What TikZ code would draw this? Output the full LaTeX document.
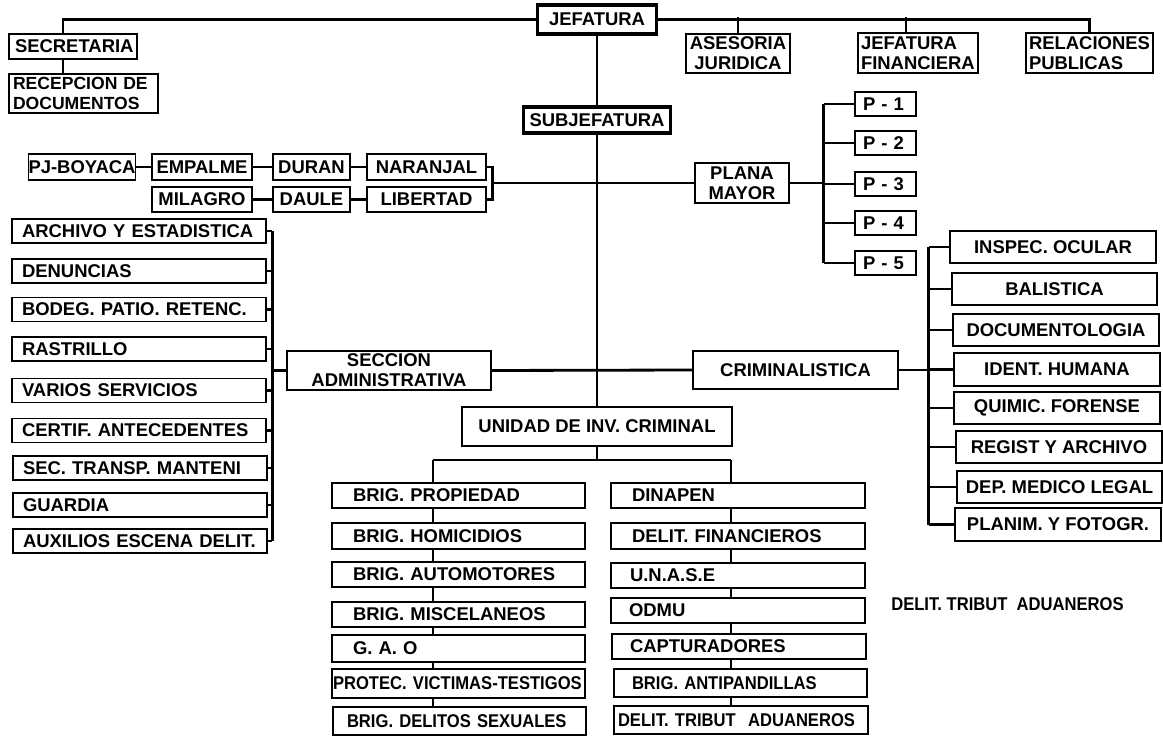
\documentclass[tikz,border=0pt]{standalone}
\usepackage{fontspec}
\setmainfont{Liberation Sans}
\newfontfamily\schmal[FakeStretch=0.9]{Liberation Sans}
\usetikzlibrary{backgrounds}
\tikzset{
  kasten/.style={draw, fill=white, line width=0.6pt, inner ysep=0pt,
    font=\bfseries\fontsize{10.5}{11.5}\selectfont},
  mitte/.style n args={2}{kasten, align=center, inner xsep=0pt,
    minimum width=#1*0.02cm, minimum height=#2*0.02cm},
  links/.style n args={3}{kasten, align=left, minimum height=#2*0.02cm,
    inner xsep=#3*0.02cm, text width={(#1-2*#3)*0.02cm}},
  chef/.style={line width=1.8pt},
  linie/.style={line width=1.6pt}
}
\begin{document}
\begin{tikzpicture}[x=0.02cm,y=-0.02cm]
  \useasboundingbox (0,0) rectangle (1163,736);

  % Jefatura y asesores
  \node[mitte={119}{29}, chef] (jefatura) at (597,19.5) {JEFATURA};
  \node[links={128}{25}{6}] (secretaria) at (73,46.5) {SECRETARIA};
  \node[links={149}{39}{4}, font=\bfseries\fontsize{10}{11.5}\selectfont] (recepcion) at (83.5,93.5) {RECEPCION DE\\DOCUMENTOS};
  \node[mitte={104}{39}] (asesoria) at (738,53.5) {ASESORIA\\JURIDICA};
  \node[links={120}{40}{3}] (finanzas) at (918,53) {JEFATURA\\FINANCIERA};
  \node[links={127}{40}{3}] (relaciones) at (1089.5,53) {RELACIONES\\PUBLICAS};
  \node[mitte={147}{26}, chef] (subjefatura) at (597,120) {SUBJEFATURA};

  % Jefaturas provinciales
  \node[mitte={104}{26}] (pj) at (82,167) {PJ-BOYACA};
  \node[mitte={100}{26}] (empalme) at (202,167) {EMPALME};
  \node[mitte={77}{26}] (duran) at (311.5,167) {DURAN};
  \node[mitte={119}{26}] (naranjal) at (426.5,167) {NARANJAL};
  \node[mitte={100}{25}] (milagro) at (202,199.5) {MILAGRO};
  \node[mitte={77}{25}] (daule) at (311.5,199.5) {DAULE};
  \node[mitte={119}{25}] (libertad) at (426.5,199.5) {LIBERTAD};

  % Plana mayor
  \node[mitte={94}{40}] (plana) at (742,183) {PLANA\\MAYOR};
  \node[links={61}{24}{8}] (p1) at (885.5,104) {P - 1};
  \node[links={61}{24}{8}] (p2) at (885.5,143) {P - 2};
  \node[links={61}{24}{8}] (p3) at (885.5,184) {P - 3};
  \node[links={61}{24}{8}] (p4) at (885.5,223) {P - 4};
  \node[links={61}{24}{8}] (p5) at (885.5,263) {P - 5};

  % Seccion administrativa
  \node[mitte={204}{39}] (seccion) at (389,370.5) {SECCION\\ADMINISTRATIVA};
  \node[links={254}{24}{10}] (archivo) at (139,231) {ARCHIVO Y ESTADISTICA};
  \node[links={254}{24}{10}] (denuncias) at (139,271) {DENUNCIAS};
  \node[links={254}{24}{10}] (bodega) at (139,309.5) {BODEG. PATIO. RETENC.};
  \node[links={254}{24}{10}] (rastrillo) at (139,349) {RASTRILLO};
  \node[links={254}{24}{10}] (varios) at (139,390.5) {VARIOS SERVICIOS};
  \node[links={254}{24}{10}] (certif) at (139,430.5) {CERTIF. ANTECEDENTES};
  \node[links={254}{24}{10}] (transporte) at (140,468) {SEC. TRANSP. MANTENI};
  \node[links={254}{24}{10}] (guardia) at (140,505) {GUARDIA};
  \node[links={254}{24}{10}] (auxilios) at (140,541) {AUXILIOS ESCENA DELIT.};

  % Criminalistica
  \node[mitte={205}{38}] (crim) at (795.5,370) {CRIMINALISTICA};
  \node[mitte={206}{32}] (inspec) at (1053,247) {INSPEC. OCULAR};
  \node[mitte={205}{32}] (balistica) at (1054.5,289) {BALISTICA};
  \node[mitte={206}{32}] (docu) at (1056,330) {DOCUMENTOLOGIA};
  \node[mitte={206}{33}] (ident) at (1057,369.5) {IDENT. HUMANA};
  \node[mitte={206}{32}] (quimic) at (1057,408) {QUIMIC. FORENSE};
  \node[mitte={206}{32}] (regist) at (1059,447) {REGIST Y ARCHIVO};
  \node[mitte={205}{32}] (medico) at (1059.5,487) {DEP. MEDICO LEGAL};
  \node[mitte={206}{33}] (planim) at (1058,524.5) {PLANIM. Y FOTOGR.};

  % Unidad de investigacion
  \node[mitte={270}{39}] (unidad) at (597,426.5) {UNIDAD DE INV. CRIMINAL};
  \node[links={253}{25}{21}] (propiedad) at (458.5,495.5) {BRIG. PROPIEDAD};
  \node[links={253}{26}{21}] (homicidios) at (458.5,536) {BRIG. HOMICIDIOS};
  \node[links={253}{25}{21}] (automotores) at (458.5,574.5) {BRIG. AUTOMOTORES};
  \node[links={253}{25}{21}] (miscelaneos) at (458.5,614.5) {BRIG. MISCELANEOS};
  \node[links={253}{27}{21}] (gao) at (458.5,648.5) {G. A. O};
  \node[links={253}{29}{1}] (protec) at (458.5,683.5) {\schmal PROTEC. VICTIMAS-TESTIGOS};
  \node[links={253}{28}{14}] (delsex) at (459.5,721) {\schmal BRIG. DELITOS SEXUALES};
  \node[links={254}{25}{21}] (dinapen) at (738,495.5) {DINAPEN};
  \node[links={254}{26}{21}] (delfin) at (738,536) {DELIT. FINANCIEROS};
  \node[links={254}{25}{19}] (unase) at (738,575.5) {U.N.A.S.E};
  \node[links={254}{25}{18}] (odmu) at (738,610.5) {ODMU};
  \node[links={254}{25}{18}] (captur) at (739,646.5) {CAPTURADORES};
  \node[links={253}{28}{18}] (antipand) at (740.5,683) {\schmal BRIG. ANTIPANDILLAS};
  \node[links={254}{28}{4}] (tributo) at (741,720) {\schmal DELIT. TRIBUT~ ADUANEROS};
  \node[font=\bfseries\fontsize{10.5}{11.5}\selectfont\schmal, inner sep=0pt] (tributo2) at (1007.5,604) {DELIT. TRIBUT~ ADUANEROS};

  \begin{scope}[on background layer]
    \fill[white] (0,0) rectangle (1163,736);
    % linea superior
    \draw[linie] (jefatura.west) -| ([xshift=-0.2cm]secretaria.north);
    \draw[linie] ([xshift=-0.2cm]secretaria.south) -- ++(0,15);
    \draw[linie] (jefatura.east) -| (relaciones.north);
    \draw[linie] (asesoria.north) -- ++(0,-16);
    \draw[linie] ([xshift=-0.24cm]finanzas.north) -- ++(0,-15);
    % eje central
    \draw[linie] (jefatura.south) -- (subjefatura.north);
    \draw[linie] (subjefatura.south) -- (unidad.north);
    \draw[linie] (seccion.east) -- (crim.west);
    % provincias
    \draw[linie] (pj) -- (empalme) -- (duran) -- (naranjal);
    \draw[linie] (milagro) -- (daule) -- (libertad);
    \draw[linie] (naranjal.east) -- ++(6,0) coordinate (ortbus) |- (libertad.east);
    \draw[linie] (plana.west) -- (plana.west -| ortbus);
    % plana mayor
    \draw[linie] (plana.east) -- ++(34,0) coordinate (pbus);
    \draw[linie] (p1.west -| pbus) -- (p5.west -| pbus);
    \foreach \p in {p1,p2,p3,p4,p5}
      \draw[linie] (\p.west) -- (\p.west -| pbus);
    % administrativa
    \draw[linie] (seccion.west) -- ++(-14,0) coordinate (abus);
    \draw[linie] (archivo.east -| abus) -- (auxilios.east -| abus);
    \foreach \n in {archivo,denuncias,bodega,rastrillo,varios,certif,transporte,guardia,auxilios}
      \draw[linie] (\n.east) -- (\n.east -| abus);
    % criminalistica
    \draw[linie] (crim.east) -- ++(30,0) coordinate (kbus);
    \draw[linie] (inspec.west -| kbus) -- (planim.west -| kbus);
    \foreach \n in {inspec,balistica,docu,ident,quimic,regist,medico,planim}
      \draw[linie] (\n.west) -- (\n.west -| kbus);
    % brigadas
    \draw[linie] (unidad.south) -- ++(0,14) coordinate (ubus);
    \coordinate (lbus) at (433,460);
    \coordinate (rbus) at (731,460);
    \draw[linie] (lbus) -- (rbus);
    \draw[linie] (lbus) -- (lbus |- delsex.north);
    \draw[linie] (rbus) -- (rbus |- tributo.north);
  \end{scope}
\end{tikzpicture}
\end{document}
